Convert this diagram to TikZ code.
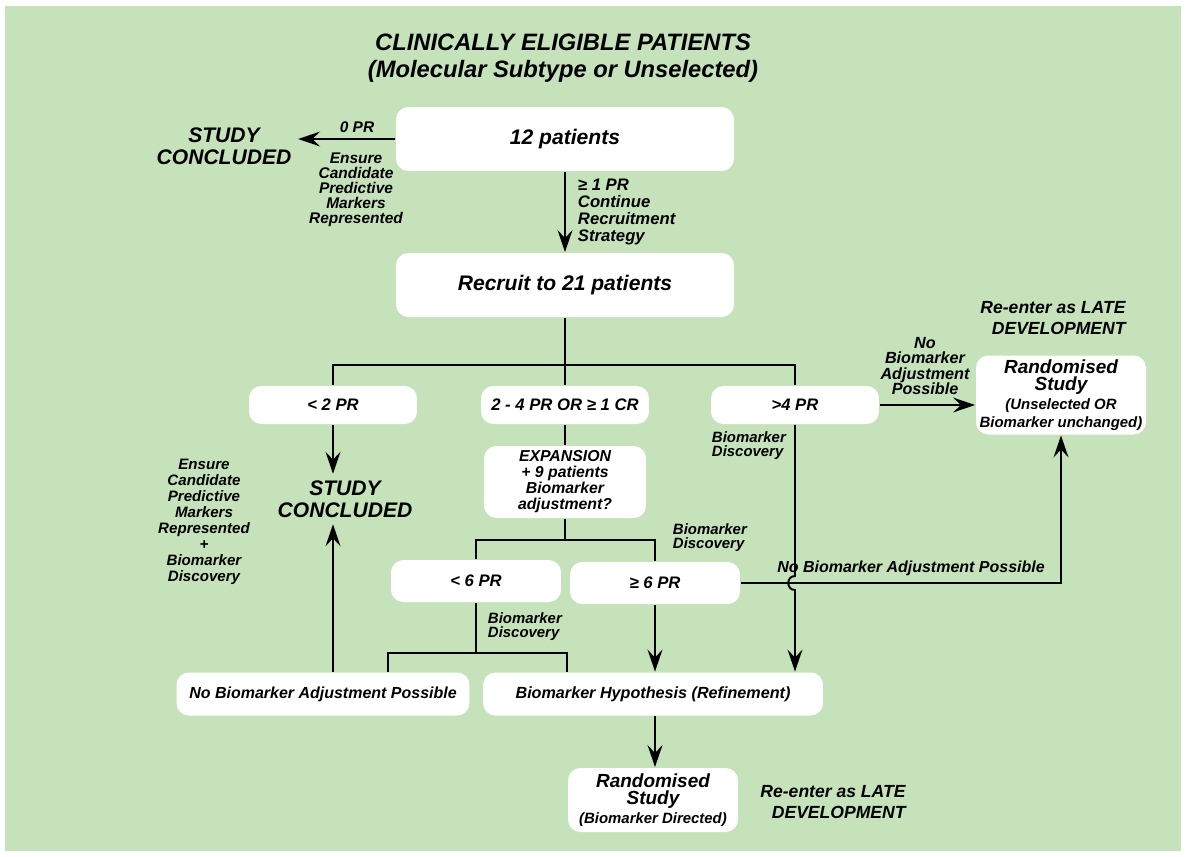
\documentclass[tikz,border=0pt]{standalone}
\usepackage{fontspec}
\setmainfont{Liberation Sans}
\usetikzlibrary{arrows.meta,calc,positioning}
\definecolor{bggreen}{HTML}{C6E2BA}

\begin{document}
\begin{tikzpicture}[x=0.02cm,y=-0.02cm,>={Stealth[length=12.5pt,width=8.5pt,inset=4.5pt]},
    line width=1.1pt,
    every node/.style={font=\bfseries\itshape},
    box/.style={fill=white,rounded corners=7pt,inner sep=1pt,align=center},
    prbox/.style={box,minimum width=3.36cm,minimum height=0.76cm,
      font=\bfseries\itshape\fontsize{9.5}{11}\selectfont},
    note/.style={align=center,inner sep=0pt,
      font=\bfseries\itshape\fontsize{8.8}{8.6}\selectfont},
    concl/.style={align=center,font=\bfseries\itshape\fontsize{12}{12.5}\selectfont},
    reenter/.style={align=right,font=\bfseries\itshape\fontsize{10}{12}\selectfont}]

    \useasboundingbox (0,0) rectangle (1186,856);
    \fill[bggreen] (5,6) rectangle (1181,851);

    \node[align=center,font=\bfseries\itshape\fontsize{13.5}{15}\selectfont] (title)
      at (563,58) {CLINICALLY ELIGIBLE PATIENTS\\(Molecular Subtype or Unselected)};

    % first stage
    \node[box,minimum width=6.76cm,minimum height=1.28cm,
      font=\bfseries\itshape\fontsize{12}{14}\selectfont] (p12) at (565,139) {12 patients};
    \node[concl] (studyA) at (224,146) {STUDY\\CONCLUDED};
    \draw[->] (p12.west) -- (p12.west -| studyA.east);
    \node[note] (zeropr) at (357,127) {0 PR};
    \node[note] (ensureA) at (356,190) {Ensure\\Candidate\\Predictive\\Markers\\Represented};

    \node[box,minimum width=6.76cm,minimum height=1.28cm,
      font=\bfseries\itshape\fontsize{12}{14}\selectfont] (recruit) at (565,285) {Recruit to 21 patients};
    \draw[->] (p12.south) -- (recruit.north);
    \node[note,anchor=west,align=left,font=\bfseries\itshape\fontsize{9.5}{9.7}\selectfont] (ge1)
      at (577,212) {≥ 1 PR\\Continue\\Recruitment\\Strategy};

    % three outcomes
    \coordinate (s1) at (565,365);
    \node[prbox] (lt2) at (333,405) {< 2 PR};
    \node[prbox] (mid) at (565,405) {2 - 4 PR OR ≥ 1 CR};
    \node[prbox] (gt4) at (795,405) {>4 PR};
    \draw (recruit.south) -- (s1);
    \draw (lt2.north) |- (s1) -| (gt4.north);
    \draw (s1) -- (mid.north);

    \node[box,minimum width=3.4cm,minimum height=1.58cm,
      font=\bfseries\itshape\fontsize{10.8}{9.8}\selectfont] (randA) at (1061,395)
      {Randomised\\Study\\[1pt]{\fontsize{8.5}{9}\selectfont (Unselected OR}\\{\fontsize{8.5}{9}\selectfont Biomarker unchanged)}};
    \node[reenter] (reA) at (1053,318) {Re-enter as LATE\\DEVELOPMENT};
    \draw[->] (gt4.east) -- (gt4.east -| randA.west);
    \node[note,font=\bfseries\itshape\fontsize{9.2}{8.6}\selectfont] (nbaA) at (925,366)
      {No\\Biomarker\\Adjustment\\Possible};
    \node[note,anchor=west,align=left,font=\bfseries\itshape\fontsize{8.5}{8}\selectfont] (bdA)
      at (711,446) {Biomarker\\Discovery};

    \node[concl] (studyB) at (345,499) {STUDY\\CONCLUDED};
    \draw[->] (lt2.south) -- (lt2.south |- studyB.north);
    \node[note,font=\bfseries\itshape\fontsize{8.6}{9.1}\selectfont] (ensureB) at (204,522)
      {Ensure\\Candidate\\Predictive\\Markers\\Represented\\+\\Biomarker\\Discovery};

    % expansion
    \node[box,minimum width=3.24cm,minimum height=1.44cm,
      font=\bfseries\itshape\fontsize{9}{9.1}\selectfont] (exp) at (565,482)
      {EXPANSION\\+ 9 patients\\Biomarker\\adjustment?};
    \draw (mid.south) -- (exp.north);
    \coordinate (s2) at (565,540);
    \node[prbox,minimum width=3.4cm,minimum height=0.84cm] (lt6) at (476,581) {< 6 PR};
    \node[prbox,minimum width=3.4cm,minimum height=0.84cm] (ge6) at (655,583) {≥ 6 PR};
    \draw (exp.south) -- (s2);
    \draw (lt6.north) |- (s2) -| (ge6.north);
    \node[note,anchor=west,align=left,font=\bfseries\itshape\fontsize{8.5}{8}\selectfont] (bdB)
      at (672,538) {Biomarker\\Discovery};

    % refinement
    \node[box,minimum width=5.86cm,minimum height=0.86cm,
      font=\bfseries\itshape\fontsize{9.1}{10}\selectfont] (nobio) at (323,694)
      {No Biomarker Adjustment Possible};
    \node[box,minimum width=6.8cm,minimum height=0.86cm,
      font=\bfseries\itshape\fontsize{9.2}{10}\selectfont] (hyp) at (653,694)
      {Biomarker Hypothesis (Refinement)};

    \coordinate (hop) at (gt4.south |- ge6.east);
    \draw[->] (gt4.south) -- ($(hop)+(0,-7)$)
      .. controls ($(hop)+(-9,-7)$) and ($(hop)+(-9,7)$) .. ($(hop)+(0,7)$)
      -- (hop |- hyp.north);
    \draw[->] (ge6.east) -| (randA.south);
    \node[note,font=\bfseries\itshape\fontsize{9.1}{10}\selectfont] (nbaB) at (911,568)
      {No Biomarker Adjustment Possible};
    \draw[->] (ge6.south) -- (ge6.south |- hyp.north);

    \coordinate (s3) at (476,653);
    \coordinate (s3l) at (388,653);
    \coordinate (s3r) at (567,653);
    \draw (lt6.south) -- (s3);
    \draw (s3l |- nobio.north) -- (s3l) -- (s3r) -- (s3r |- hyp.north);
    \node[note,anchor=west,align=left,font=\bfseries\itshape\fontsize{8.5}{8}\selectfont] (bdC)
      at (487,627) {Biomarker\\Discovery};

    \draw[->] (nobio.north -| lt2.south) -- (lt2.south |- studyB.south);

    \node[box,minimum width=3.4cm,minimum height=1.28cm,
      font=\bfseries\itshape\fontsize{10.8}{9.8}\selectfont] (randB) at (653,800)
      {Randomised\\Study\\[1pt]{\fontsize{8.5}{9}\selectfont (Biomarker Directed)}};
    \draw[->] (hyp.south -| ge6.south) -- (ge6.south |- randB.north);
    \node[reenter] (reB) at (833,802) {Re-enter as LATE\\DEVELOPMENT};
\end{tikzpicture}
\end{document}
